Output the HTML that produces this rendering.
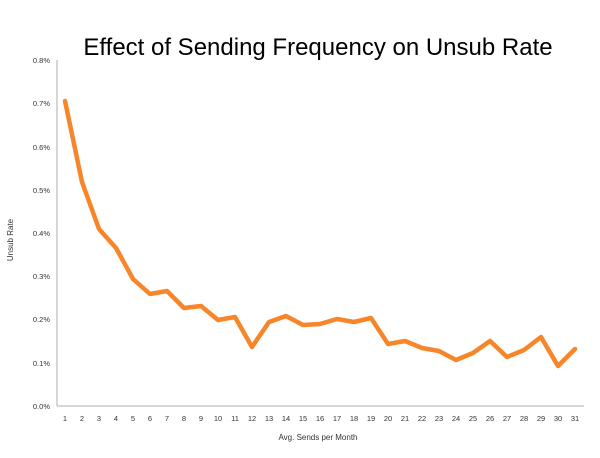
<!DOCTYPE html>
<html><head><style>
body{margin:0;background:#fff;}
text{font-family:"Liberation Sans",sans-serif;}
</style></head><body>
<svg width="600" height="453" xmlns="http://www.w3.org/2000/svg">
<rect width="600" height="453" fill="#fff"/>
<text x="318" y="55" font-size="24" text-anchor="middle" fill="#000">Effect of Sending Frequency on Unsub Rate</text>
<line x1="57" y1="60" x2="57" y2="406" stroke="#c8c8c8" stroke-width="1.5"/>
<line x1="57" y1="406" x2="584" y2="406" stroke="#c8c8c8" stroke-width="1.5"/>
<g font-size="7.5" fill="#333" text-anchor="end">
<text x="50" y="63">0.8%</text>
<text x="50" y="106">0.7%</text>
<text x="50" y="150">0.6%</text>
<text x="50" y="193">0.5%</text>
<text x="50" y="236">0.4%</text>
<text x="50" y="279">0.3%</text>
<text x="50" y="322">0.2%</text>
<text x="50" y="366">0.1%</text>
<text x="50" y="409">0.0%</text>
</g>
<text transform="translate(13,240) rotate(-90)" font-size="8" fill="#333" text-anchor="middle">Unsub Rate</text>
<text x="318" y="440" font-size="8" fill="#333" text-anchor="middle">Avg. Sends per Month</text>
<g font-size="7.5" fill="#333" text-anchor="middle" id="xt"></g>
<polyline fill="none" stroke="#f7862a" stroke-width="4.5" stroke-linejoin="round" stroke-linecap="round" points="65,101 82,182 99,229 116,248 133,279 150,294 167,291 184,308 201,306 218,320 235,317 252,347 269,322 286,316 303,325 320,324 337,319 354,322 371,318 388,344 405,341 422,348 439,351 456,360 473,353 490,341 507,357 524,350 541,337 558,366 575,349"/>
<g font-size="7.5" fill="#333" text-anchor="middle">
<text x="65" y="421">1</text><text x="82" y="421">2</text><text x="99" y="421">3</text><text x="116" y="421">4</text><text x="133" y="421">5</text><text x="150" y="421">6</text><text x="167" y="421">7</text><text x="184" y="421">8</text><text x="201" y="421">9</text><text x="218" y="421">10</text><text x="235" y="421">11</text><text x="252" y="421">12</text><text x="269" y="421">13</text><text x="286" y="421">14</text><text x="303" y="421">15</text><text x="320" y="421">16</text><text x="337" y="421">17</text><text x="354" y="421">18</text><text x="371" y="421">19</text><text x="388" y="421">20</text><text x="405" y="421">21</text><text x="422" y="421">22</text><text x="439" y="421">23</text><text x="456" y="421">24</text><text x="473" y="421">25</text><text x="490" y="421">26</text><text x="507" y="421">27</text><text x="524" y="421">28</text><text x="541" y="421">29</text><text x="558" y="421">30</text><text x="575" y="421">31</text>
</g>
</svg>
</body></html>
